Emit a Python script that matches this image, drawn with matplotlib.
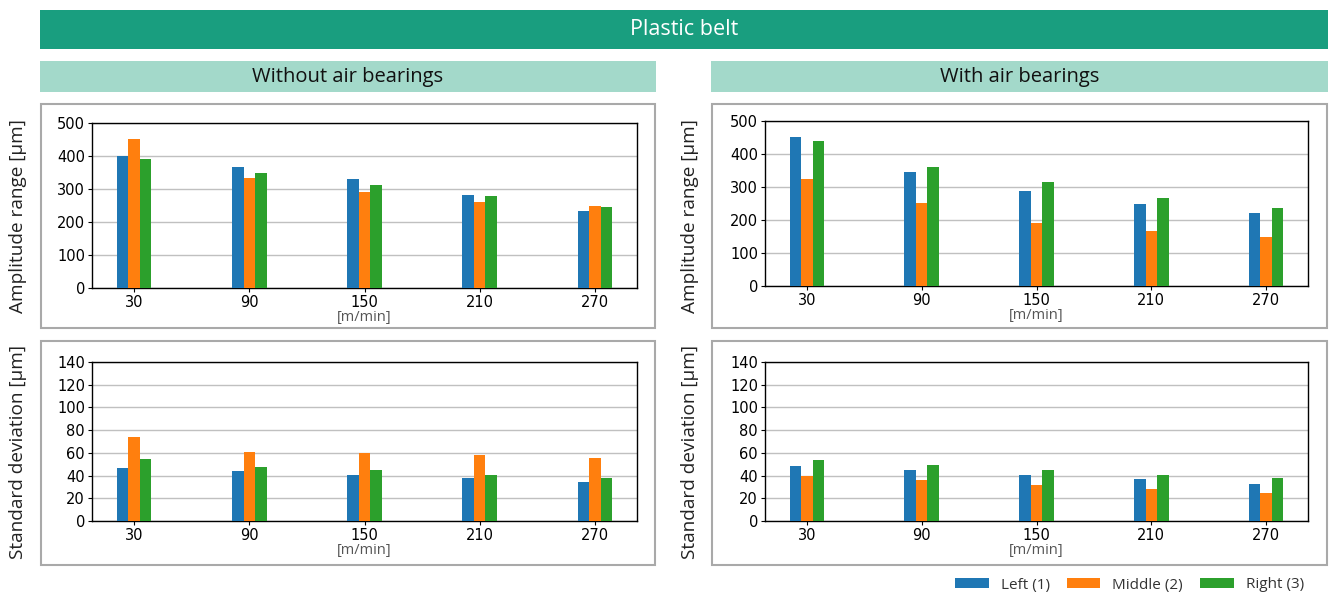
import matplotlib
matplotlib.use("Agg")
import matplotlib.pyplot as plt
from matplotlib.patches import Rectangle, Patch
import numpy as np

speeds = ["30", "90", "150", "210", "270"]
series_names = ["Left (1)", "Middle (2)", "Right (3)"]
colors = ["#1f77b4", "#ff7f0e", "#2ca02c"]

amp_without_left = [400, 367, 331, 282, 233]
amp_without_middle = [452, 334, 291, 261, 248]
amp_without_right = [391, 349, 312, 279, 245]

amp_with_left = [453, 344, 289, 250, 220]
amp_with_middle = [323, 253, 192, 168, 147]
amp_with_right = [438, 362, 314, 268, 235]

std_without_left = [46.5, 43.8, 40.3, 37.6, 34.1]
std_without_middle = [73.8, 60.6, 59.7, 57.9, 55.3]
std_without_right = [54.4, 47.4, 44.7, 40.3, 37.6]

std_with_left = [48.2, 44.7, 40.3, 36.8, 32.4]
std_with_middle = [39.4, 35.9, 31.5, 27.9, 24.4]
std_with_right = [53.5, 49.1, 44.7, 40.3, 37.6]

main_title = "Plastic belt"
sub_titles = ["Without air bearings", "With air bearings"]
ylabel_amp = "Amplitude range [µm]"
ylabel_std = "Standard deviation [µm]"
xlabel = "[m/min]"

W, H = 1330, 595
fig = plt.figure(figsize=(W / 100, H / 100), dpi=100)
fig.patch.set_facecolor("white")
head_font = ["Open Sans", "DejaVu Sans"]


def fr(x0, y0, x1, y1):
    return [x0 / W, 1 - y1 / H, (x1 - x0) / W, (y1 - y0) / H]


def rect(x0, y0, x1, y1, fc, ec="none", lw=0):
    l, b, w, h = fr(x0, y0, x1, y1)
    fig.patches.append(Rectangle((l, b), w, h, transform=fig.transFigure,
                                 facecolor=fc, edgecolor=ec, linewidth=lw, zorder=-5))


# banner
rect(40, 10, 1328, 49, "#199e7f")
fig.text((40 + 1328) / 2 / W, 1 - 29.5 / H, main_title, color="white",
         fontsize=15.5, ha="center", va="center", family=head_font)

# sub headers
for (x0, x1), t in zip([(40, 656), (711, 1328)], sub_titles):
    rect(x0, 61, x1, 92, "#a3d9ca")
    fig.text((x0 + x1) / 2 / W, 1 - 77 / H, t, color="#111111",
             fontsize=14.5, ha="center", va="center", family=head_font)

# panel boxes
for x0, x1 in [(41, 655), (712, 1327)]:
    for y0, y1 in [(104, 328), (341, 565)]:
        rect(x0, y0, x1, y1, "white", ec="#a9a9a9", lw=1.5)

panels = [
    ((92, 123, 637, 288), [amp_without_left, amp_without_middle, amp_without_right], 500, 100, ylabel_amp, 18, 216),
    ((765, 121, 1308, 286), [amp_with_left, amp_with_middle, amp_with_right], 500, 100, ylabel_amp, 690, 216),
    ((92, 362, 637, 521), [std_without_left, std_without_middle, std_without_right], 140, 20, ylabel_std, 18, 452),
    ((765, 362, 1308, 521), [std_with_left, std_with_middle, std_with_right], 140, 20, ylabel_std, 690, 452),
]

x = np.arange(len(speeds))
width = 0.1
for (x0, y0, x1, y1), data, ymax, step, ylab, ylx, yly in panels:
    ax = fig.add_axes(fr(x0, y0, x1, y1))
    for i, (vals, c) in enumerate(zip(data, colors)):
        ax.bar(x + (i - 1) * width, vals, width=width, color=c, zorder=3)
    ax.set_ylim(0, ymax)
    ax.set_yticks(np.arange(0, ymax + 1, step))
    ax.set_xticks(x)
    ax.set_xticklabels(speeds)
    ax.tick_params(labelsize=10.5, length=3, width=0.8, pad=2)
    ax.yaxis.grid(True, color="#c0c0c0", linewidth=1, zorder=0)
    ax.set_axisbelow(True)
    for s in ax.spines.values():
        s.set_linewidth(1)
        s.set_color("black")
    ax.set_xlabel(xlabel, fontsize=10.5, color="#555555", labelpad=0, family=head_font)
    fig.text(ylx / W, 1 - yly / H, ylab, rotation=90, fontsize=13.7,
             ha="center", va="center", color="#222222", family=head_font)

handles = [Patch(facecolor=c, edgecolor="none") for c in colors]
leg = fig.legend(handles, series_names, loc="center right", bbox_to_anchor=(1310 / W, 1 - 585 / H),
                 ncol=3, frameon=False, handlelength=2.2, handleheight=0.65,
                 columnspacing=1.1, handletextpad=0.8, borderaxespad=0,
                 prop={"family": head_font, "size": 11})
for t in leg.get_texts():
    t.set_color("#333333")

fig.savefig("out.png", dpi=100)
